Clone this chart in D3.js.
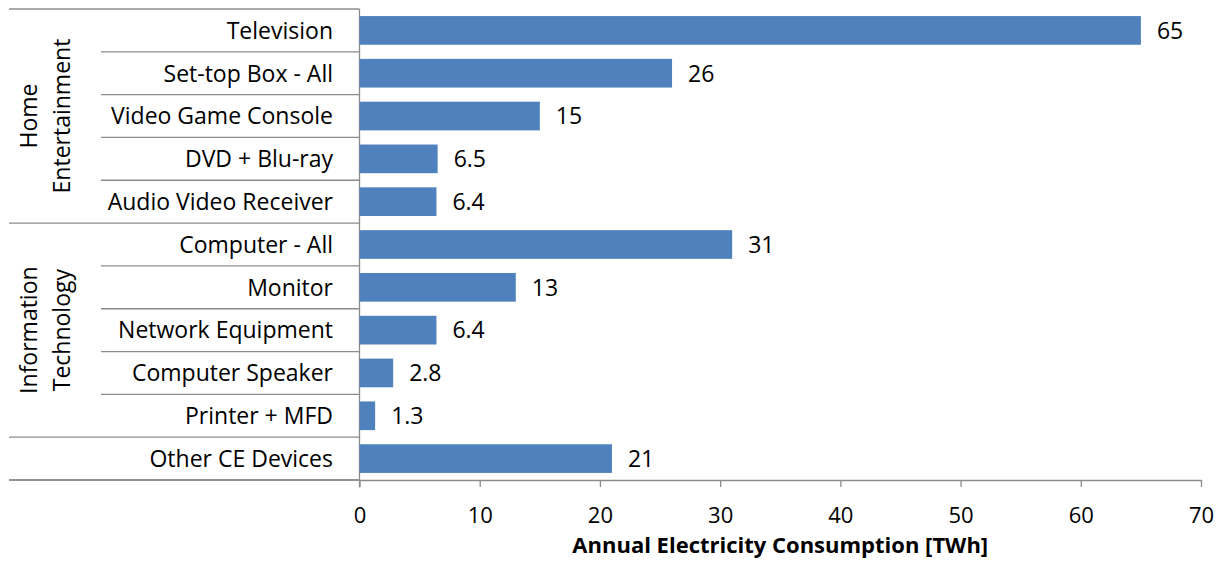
<!DOCTYPE html>
<html>
<head>
<meta charset="utf-8">
<script src="https://cdn.jsdelivr.net/npm/d3@7/dist/d3.min.js"></script>
<style>
  html, body { margin: 0; padding: 0; background: #fff; }
  svg { display: block; font-family: "Open Sans", "DejaVu Sans", sans-serif; }
</style>
</head>
<body>
<svg id="chart" width="1223" height="563"></svg>
<script>
// Annual electricity consumption of consumer electronics, by device type
const categories = [
  "Television", "Set-top Box - All", "Video Game Console", "DVD + Blu-ray",
  "Audio Video Receiver", "Computer - All", "Monitor", "Network Equipment",
  "Computer Speaker", "Printer + MFD", "Other CE Devices"
];
const consumption = [65, 26, 15, 6.5, 6.4, 31, 13, 6.4, 2.8, 1.3, 21];

// Grouping of the categories (label lines, number of categories in each group)
const groupLabels = [["Home", "Entertainment"], ["Information", "Technology"], []];
const groupSizes = [5, 5, 1];

const xTicks = [0, 10, 20, 30, 40, 50, 60, 70];
const axisTitle = "Annual Electricity Consumption [TWh]";

const svg = d3.select("#chart");
const plotLeft = 359.5, plotRight = 1201, plotTop = 9, plotBottom = 480;
const groupLeft = 9, catLeft = 101;
const lineColor = "#8c8c8c";
const barColor = "#4f81bd";
const labelSize = 23;

const x = d3.scaleLinear().domain([0, 70]).range([plotLeft, plotRight]);
const y = d3.scaleBand().domain(categories).range([plotTop, plotBottom])
  .paddingInner(0.33).paddingOuter(0.165);
const step = y.step();

const data = categories.map((c, i) => ({ name: c, value: consumption[i] }));
const fmt = d3.format(".2~r");

// Category separator lines (long lines mark group boundaries)
const groupStarts = [0];
groupSizes.forEach((n, i) => groupStarts.push(groupStarts[i] + n));
const boundaries = d3.range(categories.length + 1);
svg.append("g").selectAll("line").data(boundaries).join("line")
  .attr("x1", i => groupStarts.includes(i) ? groupLeft : catLeft)
  .attr("x2", plotLeft)
  .attr("y1", i => plotTop + i * step)
  .attr("y2", i => plotTop + i * step)
  .attr("stroke", lineColor).attr("stroke-width", 1.3);

// Vertical category axis line
svg.append("line")
  .attr("x1", plotLeft).attr("x2", plotLeft)
  .attr("y1", plotTop).attr("y2", plotBottom + 7.5)
  .attr("stroke", lineColor).attr("stroke-width", 1.3);

// Bars
svg.append("g").selectAll("rect").data(data).join("rect")
  .attr("x", x(0))
  .attr("y", d => y(d.name))
  .attr("width", d => x(d.value) - x(0))
  .attr("height", y.bandwidth())
  .attr("fill", barColor);

// Value labels
svg.append("g").selectAll("text").data(data).join("text")
  .attr("x", d => x(d.value) + 16)
  .attr("y", d => y(d.name) + y.bandwidth() / 2)
  .attr("dy", "0.36em")
  .attr("font-size", labelSize)
  .attr("fill", "#000")
  .text(d => fmt(d.value));

// Category labels
svg.append("g").selectAll("text").data(data).join("text")
  .attr("x", 333)
  .attr("y", d => y(d.name) + y.bandwidth() / 2)
  .attr("dy", "0.36em")
  .attr("text-anchor", "end")
  .attr("font-size", labelSize)
  .attr("fill", "#000")
  .text(d => d.name);

// Rotated group labels
groupLabels.forEach((lines, gi) => {
  if (!lines.length) return;
  const cy = plotTop + (groupStarts[gi] + groupSizes[gi] / 2) * step;
  const g = svg.append("g").attr("transform", `translate(0,${cy}) rotate(-90)`);
  lines.forEach((t, li) => {
    g.append("text")
      .attr("x", 0)
      .attr("y", 37 + li * 33)
      .attr("text-anchor", "middle")
      .attr("font-size", labelSize)
      .attr("fill", "#000")
      .text(t);
  });
});

// Value axis
const xAxis = d3.axisBottom(x).tickValues(xTicks).tickSize(7).tickSizeOuter(0).tickPadding(20);
const ax = svg.append("g").attr("transform", `translate(0,${plotBottom})`).call(xAxis);
ax.select(".domain").attr("stroke", lineColor).attr("stroke-width", 1.3);
ax.selectAll(".tick line").attr("stroke", lineColor).attr("stroke-width", 1.3);
ax.selectAll(".tick text").attr("font-size", 22).attr("fill", "#000")
  .attr("font-family", "Open Sans, DejaVu Sans, sans-serif");

// Extend the bottom line under the category labels
svg.append("line")
  .attr("x1", groupLeft).attr("x2", plotLeft)
  .attr("y1", plotBottom).attr("y2", plotBottom)
  .attr("stroke", lineColor).attr("stroke-width", 1.3);

// Axis title
svg.append("text")
  .attr("x", (plotLeft + plotRight) / 2)
  .attr("y", 553)
  .attr("text-anchor", "middle")
  .attr("font-size", 22)
  .attr("font-weight", "bold")
  .attr("fill", "#000")
  .text(axisTitle);
</script>
</body>
</html>
